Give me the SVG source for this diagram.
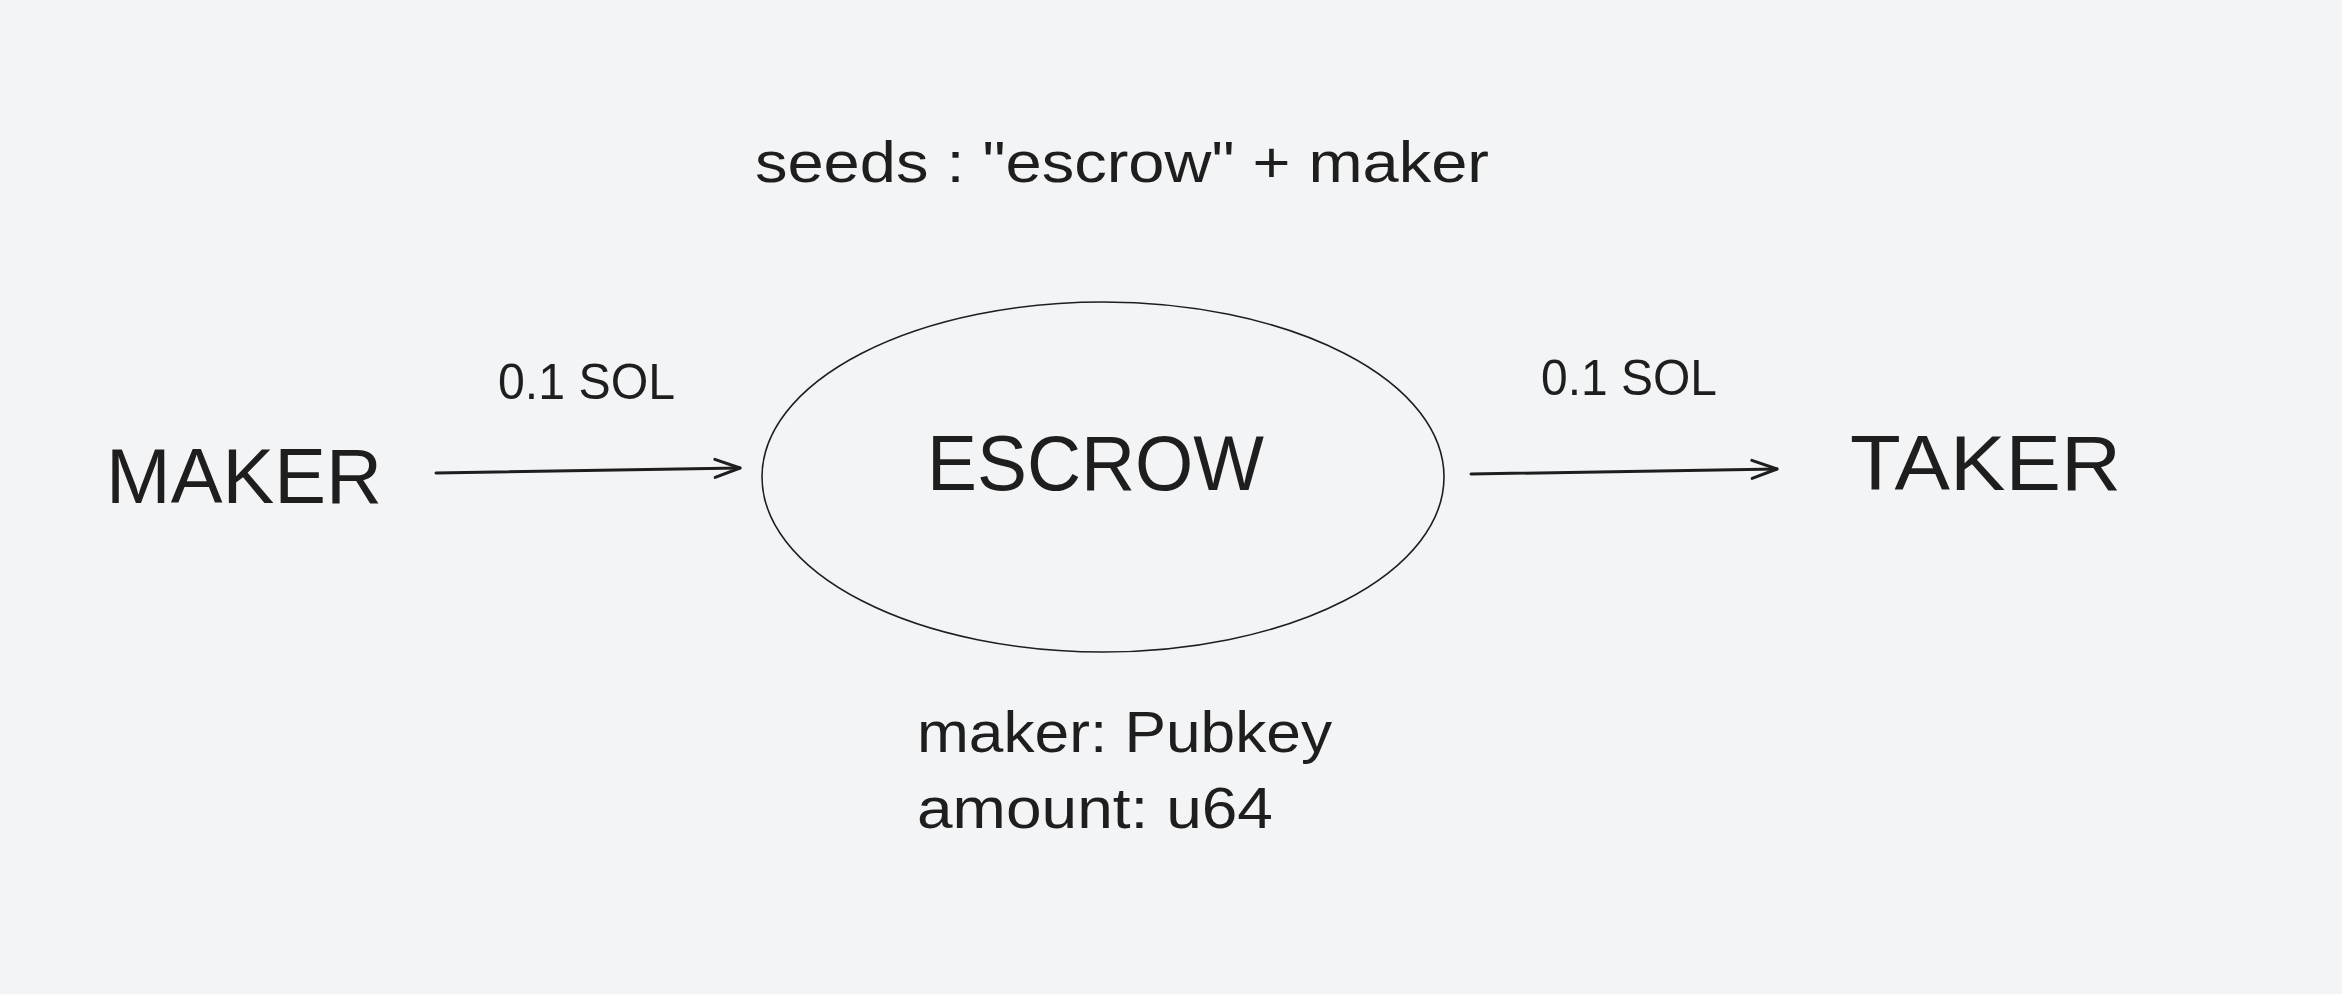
<svg xmlns="http://www.w3.org/2000/svg" width="2342" height="994" viewBox="0 0 2342 994">
  <defs>
    <style>
      .t { font-family: "Liberation Sans", Arial, sans-serif; fill: #1e1e1e; }
      .big { font-size: 77px; }
      .mid { font-size: 50px; }
      .body { font-size: 58px; }
      .conn { stroke: #1e1e1e; stroke-width: 3; fill: none; stroke-linecap: round; }
    </style>
    <marker id="arrow" markerUnits="userSpaceOnUse" viewBox="-30 -15 34 30" refX="0" refY="0" markerWidth="34" markerHeight="30" orient="auto">
      <path d="M-25,-9 L0,0 L-25,9" fill="none" stroke="#1e1e1e" stroke-width="3" stroke-linecap="round" stroke-linejoin="round"/>
    </marker>
  </defs>
  <rect width="2342" height="994" fill="#f3f4f6"/>

  <g id="seeds-label">
    <text class="t body" x="755" y="182" textLength="734" lengthAdjust="spacingAndGlyphs">seeds : "escrow" + maker</text>
  </g>

  <g id="maker">
    <text class="t big" x="106" y="503" textLength="276" lengthAdjust="spacingAndGlyphs">MAKER</text>
  </g>

  <g id="escrow">
    <ellipse cx="1103" cy="477" rx="341" ry="175" fill="none" stroke="#1e1e1e" stroke-width="1.6"/>
    <text class="t big" x="927" y="490" textLength="337" lengthAdjust="spacingAndGlyphs">ESCROW</text>
  </g>

  <g id="taker">
    <text class="t big" x="1850" y="490" textLength="271" lengthAdjust="spacingAndGlyphs">TAKER</text>
  </g>

  <g id="escrow-fields">
    <text class="t body" x="917" y="752" textLength="415" lengthAdjust="spacingAndGlyphs">maker: Pubkey</text>
    <text class="t body" x="917" y="828" textLength="356" lengthAdjust="spacingAndGlyphs">amount: u64</text>
  </g>

  <g id="connectors">
    <line class="conn" x1="436" y1="473" x2="740" y2="468" marker-end="url(#arrow)"/>
    <text class="t mid" x="498" y="399" textLength="177" lengthAdjust="spacingAndGlyphs">0.1 SOL</text>
    <line class="conn" x1="1471" y1="474" x2="1777" y2="469" marker-end="url(#arrow)"/>
    <text class="t mid" x="1541" y="395" textLength="176" lengthAdjust="spacingAndGlyphs">0.1 SOL</text>
  </g>
</svg>
